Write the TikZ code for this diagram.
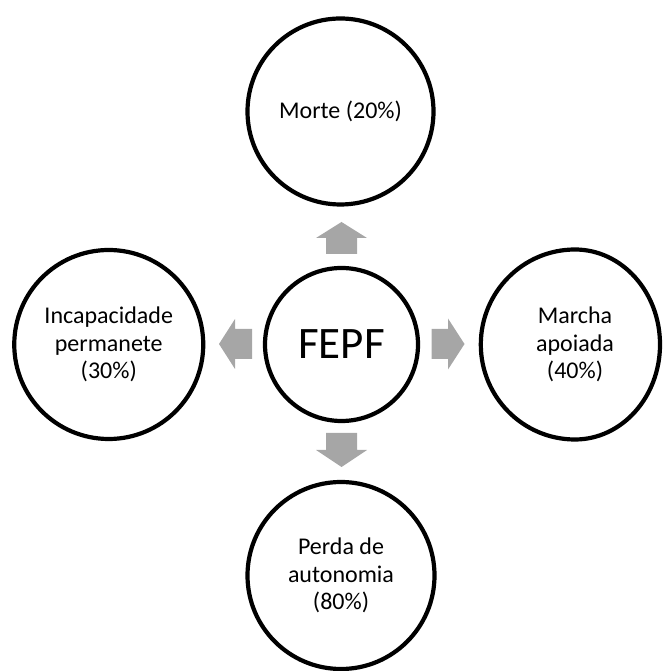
\documentclass[tikz,border=0pt]{standalone}
\usepackage{fontspec}
\setmainfont{Carlito}
\usetikzlibrary{calc}
\definecolor{arrowgray}{RGB}{166,166,166}
\begin{document}
\begin{tikzpicture}[x=1pt,y=1pt,
  ring/.style={circle, draw=black, line width=4.2pt, inner sep=0pt},
  txt/.style={align=center, font=\fontsize{24}{27.5}\selectfont, text=black},
  blockarrow/.style={fill=arrowgray, draw=none}]
\useasboundingbox (0,0) rectangle (662,671);
\clip (0,0) rectangle (662,671);
% circles
\node[ring, minimum size=153pt, font=\fontsize{45}{54}\selectfont] (c) at (341.5,326.5) {FEPF};
\node[ring, minimum size=186pt, txt] (t) at (340.5,559.5) {Morte (20\%)};
\node[ring, minimum size=189pt, txt] (l) at (108.75,326.5) {Incapacidade\\permanete\\(30\%)};
\node[ring, minimum size=187pt, txt] (b) at (341,95.5) {Perda de\\autonomia\\(80\%)};
% right circle (slightly squeezed on its right side)
\node[txt] (r) at (575,326.5) {Marcha\\apoiada\\(40\%)};
\draw[line width=4.2pt] ([yshift=95pt]r.center) arc[start angle=90, end angle=270, x radius=94.2, y radius=95]
  arc[start angle=270, end angle=450, x radius=85, y radius=95] -- cycle;
% block arrows
\coordinate (au) at (341.5,433);
\fill[blockarrow] ($(au)+(-15.5,-16)$) -- ($(au)+(15.5,-16)$) -- ($(au)+(15.5,0)$) -- ($(au)+(25.5,0)$)
  -- ($(au)+(0,16)$) -- ($(au)+(-25.5,0)$) -- ($(au)+(-15.5,0)$) -- cycle;
\coordinate (ad) at (341.5,221);
\fill[blockarrow] ($(ad)+(-15.5,17)$) -- ($(ad)+(15.5,17)$) -- ($(ad)+(15.5,0)$) -- ($(ad)+(25.5,0)$)
  -- ($(ad)+(0,-17)$) -- ($(ad)+(-25.5,0)$) -- ($(ad)+(-15.5,0)$) -- cycle;
\coordinate (al) at (235,327);
\fill[blockarrow] ($(al)+(17,-15)$) -- ($(al)+(17,15)$) -- ($(al)+(0,15)$) -- ($(al)+(0,25)$)
  -- ($(al)+(-16,0)$) -- ($(al)+(0,-25)$) -- ($(al)+(0,-15)$) -- cycle;
\coordinate (ar) at (448,327);
\fill[blockarrow] ($(ar)+(-16.5,-15)$) -- ($(ar)+(-16.5,15)$) -- ($(ar)+(0,15)$) -- ($(ar)+(0,25.5)$)
  -- ($(ar)+(16.5,0)$) -- ($(ar)+(0,-25.5)$) -- ($(ar)+(0,-15)$) -- cycle;
\end{tikzpicture}
\end{document}
